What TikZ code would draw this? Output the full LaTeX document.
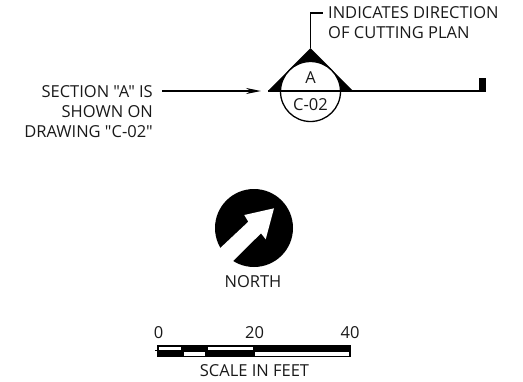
\documentclass[tikz,border=0pt]{standalone}
\usepackage{fontspec}
\newfontfamily\lblfont{Open Sans}
\usetikzlibrary{arrows.meta}
\tikzset{
  lbl/.style={inner sep=0pt,font=\lblfont\fontsize{16.5}{19}\selectfont,text=black!90},
  wire/.style={draw=black,line width=1.6pt},
  thin wire/.style={draw=black,line width=1.2pt}
}
\begin{document}
\begin{tikzpicture}[x=1pt,y=-1pt]
\useasboundingbox (0,0) rectangle (523,381);
% section marker
\coordinate (apex) at (310.5,48);
\coordinate (bl) at (268,91);
\coordinate (br) at (353,91);
\coordinate (lineend) at (485,91);
\coordinate (elbow) at (310.5,13);
\coordinate (leadend) at (323,13);
\coordinate (arrstart) at (162,91);
\coordinate (arrend) at (261,91);
\fill[black] (apex) -- (br) -- (bl) -- cycle;
\node[circle,draw=black,line width=1.3pt,fill=white,minimum size=60pt,inner sep=0pt] (bubble) at (310.5,91.5) {};
\draw[wire] (bl) -- (lineend);
\fill[black] (479,78) rectangle (485.5,92);
\draw[thin wire] (apex) -- (elbow) -- (leadend);
\draw[wire,-{Stealth[length=15pt,width=6pt]}] (arrstart) -- (arrend);
\node[lbl] (a) at (310.5,78) {A};
\node[lbl] (c02) at (310.5,105) {C-02};
\node[lbl,anchor=west] (ind1) at (328,13) {INDICATES DIRECTION};
\node[lbl,anchor=west] (ind2) at (328,32.5) {OF CUTTING PLAN};
\node[lbl,anchor=east] (s1) at (153,92) {SECTION "A" IS};
\node[lbl,anchor=east] (s2) at (153,112) {SHOWN ON};
\node[lbl,anchor=east] (s3) at (153,132) {DRAWING "C-02"};
% north arrow
\node[circle,fill=black,minimum size=78pt,inner sep=0pt] (northdisc) at (254,228) {};
\fill[white] (274,208.3) -- (244.3,215) -- (248.3,221.7) -- (216,252) -- (229,265) -- (261,233.3) -- (265.7,239.3) -- cycle;
\node[lbl] (north) at (253,282) {NORTH};
% scale bar
\fill[black] (157.3,345) rectangle (351,357.3);
\fill[black] (155,350.3) rectangle (158,351.1);
\fill[white] (159.3,346.7) rectangle (181,350);
\fill[white] (207.7,346.7) rectangle (253.3,350);
\fill[white] (184,352.3) rectangle (205,355.7);
\fill[white] (255.3,352.3) rectangle (349.3,355.7);
\node[lbl] (s0) at (158.5,333) {0};
\node[lbl] (s20) at (254.5,333) {20};
\node[lbl] (s40) at (350,333) {40};
\node[lbl] (scale) at (254.5,371) {SCALE IN FEET};
\end{tikzpicture}
\end{document}
